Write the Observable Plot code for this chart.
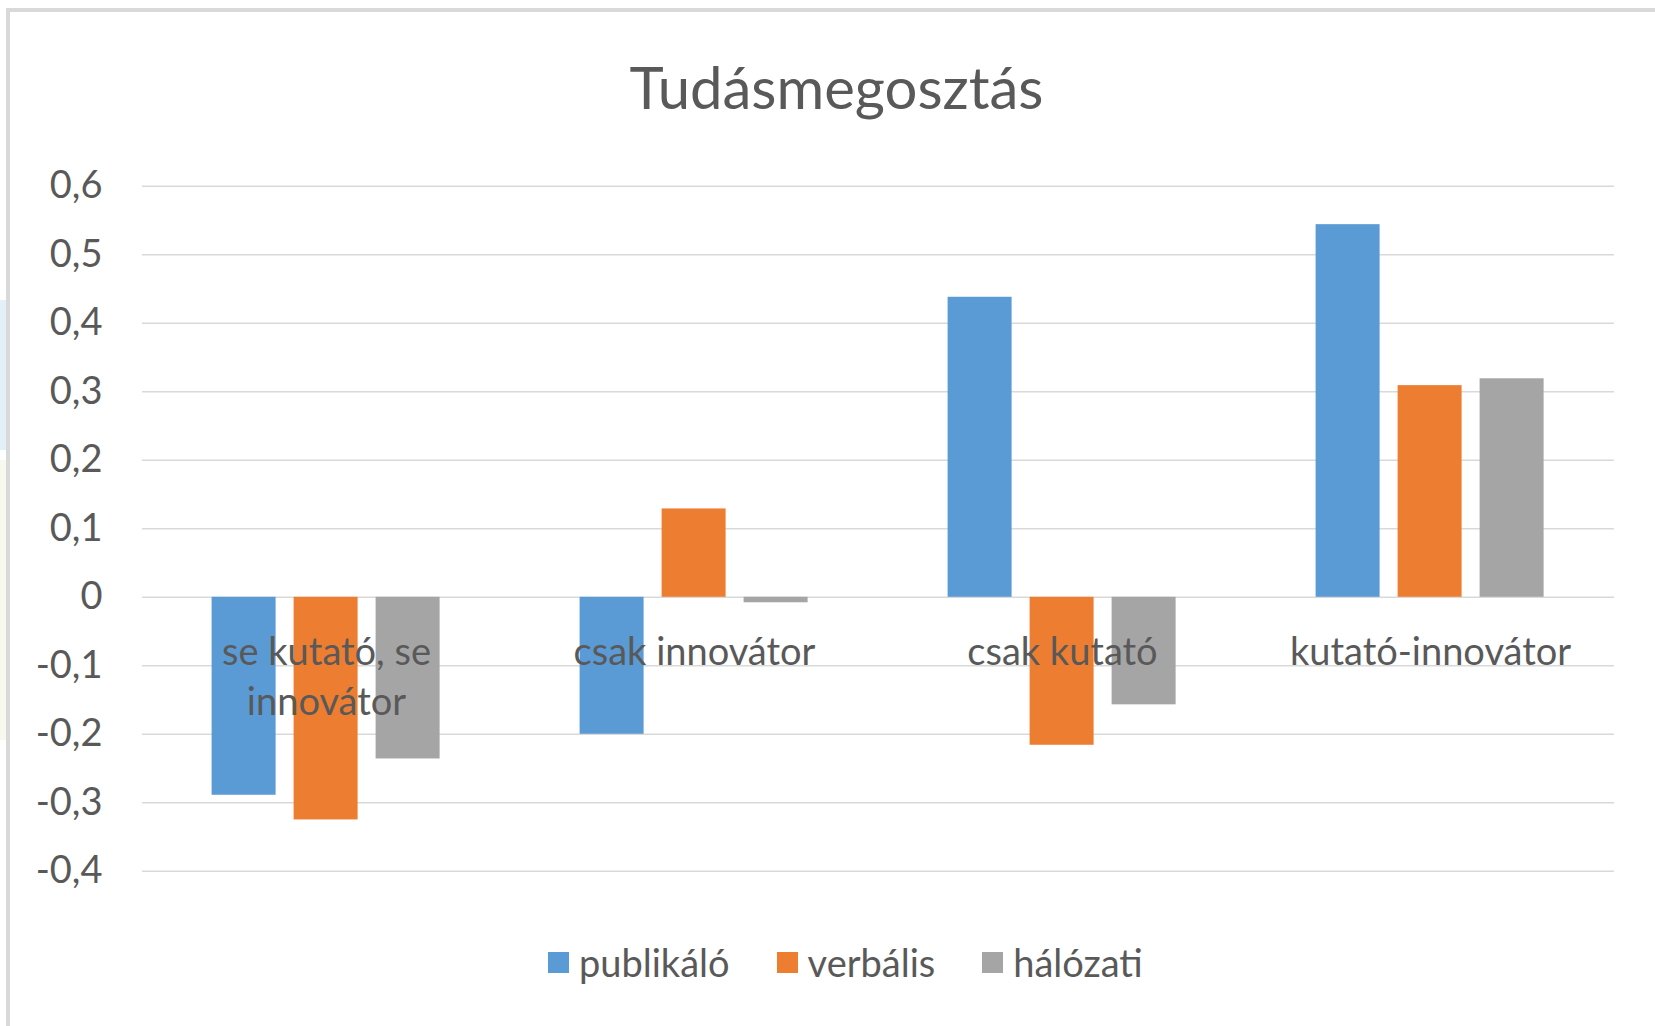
<!DOCTYPE html>
<html>
<head>
<meta charset="utf-8">
<script src="https://cdn.jsdelivr.net/npm/d3@7"></script>
<script src="https://cdn.jsdelivr.net/npm/@observablehq/plot@0.6"></script>
<style>
  html, body { margin: 0; padding: 0; background: #fff; overflow: hidden; width: 1655px; height: 1026px; }
  body { position: relative; font-family: Lato, "Open Sans", sans-serif; color: #595959; }
  #frame { position: absolute; left: 6px; top: 8px; width: 1700px; height: 1100px; border-left: 4px solid #D9D9D9; border-top: 4px solid #D9D9D9; box-sizing: border-box; }
  #wm1 { position: absolute; left: 0; top: 300px; width: 6px; height: 150px; background: #E3F0F7; }
  #wm2 { position: absolute; left: 0; top: 460px; width: 6px; height: 280px; background: #F7F8EE; }
  #title { position: absolute; left: 136.5px; width: 1400px; top: 58px; line-height: 1; font-size: 58px; text-align: center; color: #595959; }
  #chart { position: absolute; left: 0; top: 130px; }
  #legend { position: absolute; left: 548px; top: 938px; display: flex; align-items: center; font-size: 38px; line-height: 48px; color: #595959; }
  .item { display: flex; align-items: center; margin-right: 47px; }
  .sw { width: 21px; height: 21px; margin-right: 10px; }
</style>
</head>
<body>
<div id="wm1"></div><div id="wm2"></div>
<div id="frame"></div>
<div id="title">Tudásmegosztás</div>
<div id="chart"></div>
<div id="legend"></div>
<script>
const categories = ["se kutató, se innovátor", "csak innovátor", "csak kutató", "kutató-innovátor"];
const categoryLabels = ["se kutató, se\ninnovátor", "csak innovátor", "csak kutató", "kutató-innovátor"];
const series = ["publikáló", "verbális", "hálózati"];
const colors = ["#5B9BD5", "#ED7D31", "#A5A5A5"];
const publikalo = [-0.289, -0.200, 0.438, 0.544];
const verbalis = [-0.325, 0.129, -0.216, 0.309];
const halozati = [-0.236, -0.008, -0.157, 0.319];
const yTicks = [-0.4, -0.3, -0.2, -0.1, 0, 0.1, 0.2, 0.3, 0.4, 0.5, 0.6];
const yTickLabels = ["-0,4", "-0,3", "-0,2", "-0,1", "0", "0,1", "0,2", "0,3", "0,4", "0,5", "0,6"];

const seriesValues = [publikalo, verbalis, halozati];
const table = [];
categories.forEach((c, i) => {
  series.forEach((s, j) => table.push({category: c, series: s, value: seriesValues[j][i]}));
});

const chart = Plot.plot({
  width: 1655,
  height: 780,
  marginLeft: 140.4,
  marginRight: 40,
  marginTop: 55.8,
  marginBottom: 39.2,
  style: {fontFamily: "Lato, 'Open Sans', sans-serif", fontSize: "38px", color: "#595959", background: "transparent"},
  fx: {domain: categories, padding: 0, axis: null, label: null},
  x: {domain: series, paddingInner: 0.22, paddingOuter: 0.84, axis: null},
  y: {domain: [-0.4, 0.6], ticks: yTicks, tickFormat: d => yTickLabels[yTicks.findIndex(t => Math.abs(t - d) < 1e-9)], tickSize: 0, tickPadding: 40, label: null},
  color: {domain: series, range: colors},
  marks: [
    Plot.ruleY(yTicks, {stroke: "#D9D9D9", strokeWidth: 1.6}),
    Plot.barY(table, {fx: "category", x: "series", y: "value", fill: "series"}),
    Plot.text(categories, {fx: d => d, y: () => 0, text: (d, i) => categoryLabels[i], lineAnchor: "top", lineHeight: 1.3, dy: 33, fontSize: 38, fill: "#595959"})
  ]
});
document.getElementById("chart").appendChild(chart);

const legend = document.getElementById("legend");
series.forEach((s, j) => {
  const item = document.createElement("div");
  item.className = "item";
  const sw = document.createElement("div");
  sw.className = "sw";
  sw.style.background = colors[j];
  const t = document.createElement("span");
  t.textContent = s;
  item.appendChild(sw); item.appendChild(t);
  legend.appendChild(item);
});
</script>
</body>
</html>
